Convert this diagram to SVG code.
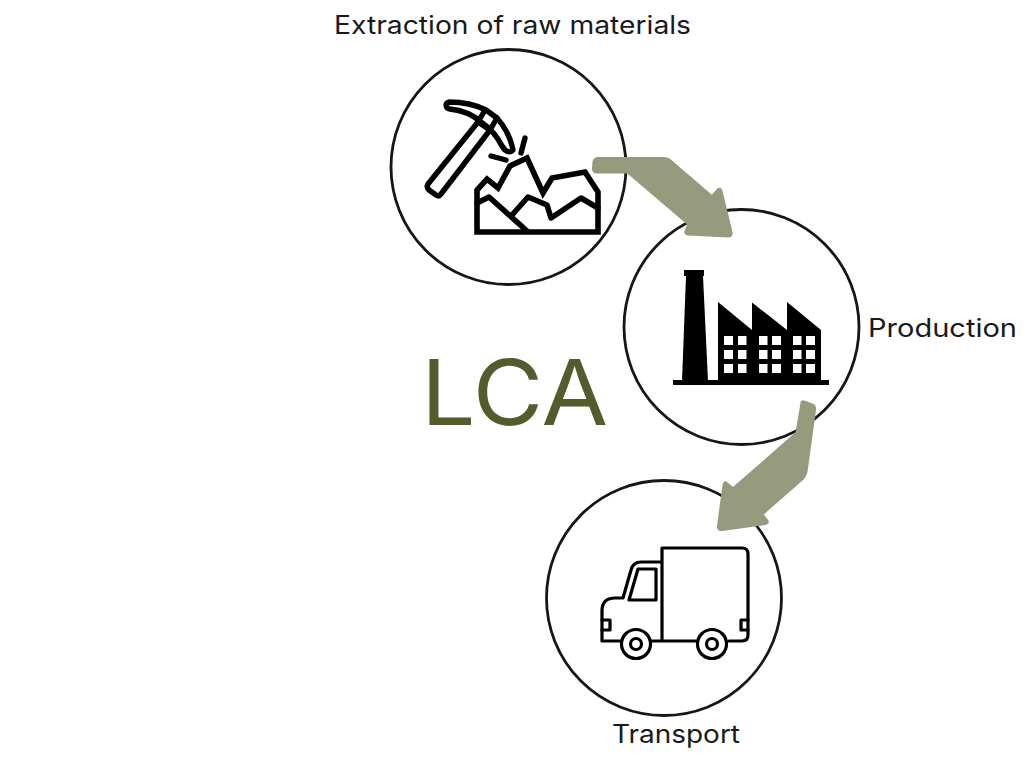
<svg xmlns="http://www.w3.org/2000/svg" width="1024" height="768" viewBox="0 0 1024 768">
<style>
.ring{fill:#fff;stroke:#161616;stroke-width:2.8}
.lbl{font-family:"Inter","Noto Sans",sans-serif;font-size:25px;fill:#1a1a1a}
.ln{fill:none;stroke:#000;stroke-linejoin:round;stroke-linecap:round}
.arrow{fill:#969b7e;stroke:#969b7e;stroke-width:3;stroke-linejoin:round}
.win{fill:#fff}
</style>
<rect width="1024" height="768" fill="#fff"/>
<g id="node-extraction">
<circle class="ring" cx="508.500" cy="167" r="117.500"/>
<g class="ln" stroke-width="5.400">
<path d="M449,102C466,102 478,106 486,110L497,118C506,128 511,140 513,150C509,154 505,151 502,146C497,136 490,128 481,122C472,114 460,110 450,109C445,108 445,103 449,102Z"/>
<path d="M485,110L478,122L490,130L497,118"/>
<path d="M478,122L428,184Q426,187 429,190L436,195Q439,197 441,194L490,130"/>
<path d="M491,156L506,160M525,138L521,153"/>
</g>
<g class="ln" stroke-width="5.600">
<path stroke-linejoin="miter" d="M477,232V190L487,179L498,188L510,166L527,158L543,193L552,178L585,172L598,192V232Z"/>
<path d="M477,203L489,197L527,231M512,215L528,197L547,205L551,218L581,198L598,208"/>
</g>
</g>
<g id="node-production">
<circle class="ring" cx="741.500" cy="327" r="117.500"/>
<path d="M684,270H704V276H703L708,381H682L686,276H684ZM673,380H829V385H673ZM718,302L752,330V302.500L787,330V302L821,330V381H718Z"/>
<g class="win">
<rect x="724" y="336" width="9" height="9"/><rect x="738" y="336" width="8.500" height="9"/><rect x="759" y="336" width="8.500" height="9"/><rect x="772" y="336" width="9" height="9"/><rect x="793" y="336" width="8.500" height="9"/><rect x="806" y="336" width="9" height="9"/>
<rect x="724" y="350" width="9" height="9"/><rect x="738" y="350" width="8.500" height="9"/><rect x="759" y="350" width="8.500" height="9"/><rect x="772" y="350" width="9" height="9"/><rect x="793" y="350" width="8.500" height="9"/><rect x="806" y="350" width="9" height="9"/>
<rect x="724" y="364" width="9" height="9"/><rect x="738" y="364" width="8.500" height="9"/><rect x="759" y="364" width="8.500" height="9"/><rect x="772" y="364" width="9" height="9"/><rect x="793" y="364" width="8.500" height="9"/><rect x="806" y="364" width="9" height="9"/>
</g>
</g>
<g id="node-transport">
<circle class="ring" cx="664" cy="598" r="117.500"/>
<g class="ln" stroke-width="3.200" fill="none" stroke="#111">
<path d="M662,641V548H742Q748,548 748,554V635Q748,641 742,641H729M696,641H652M620,641H602V611Q602,598 615,598H623L631,570Q633,562 641,562H662"/>
<path d="M638,569H656V600H629Z"/>
<path d="M602,620H610V630H602M748,620H741V630H748"/>
<circle cx="636" cy="644" r="14.500"/><circle cx="636" cy="644" r="5.500"/>
<circle cx="712" cy="644" r="14.500"/><circle cx="712" cy="644" r="5.500"/>
</g>
</g>
<g id="connectors">
<path class="arrow" d="M598,158.500H664Q667,158.500 669,160L712,197L718,190Q720,188 721,191L731,232Q732,236 728,236L688,234Q685,234 686,231L689,224L628,172H597Q593,172 593.500,168L594,162Q595,158.500 598,158.500Z"/>
<path class="arrow" d="M804,402L812,405Q815,406 814.500,410L806,472Q805,476 803,478L762,514L767,521Q768,523 765,523.500L722,529.500Q718,530 718.500,526L724,485Q725,481 727,484L733,489L797,433L802,403Q802,401 804,402Z"/>
</g>
<text class="lbl" x="334" y="34" textLength="357" lengthAdjust="spacingAndGlyphs">Extraction of raw materials</text>
<text class="lbl" x="868" y="337" textLength="149" lengthAdjust="spacingAndGlyphs">Production</text>
<text class="lbl" x="612" y="743" textLength="128" lengthAdjust="spacingAndGlyphs">Transport</text>
<text x="421" y="425" textLength="187" lengthAdjust="spacingAndGlyphs" font-family="Inter,'Noto Sans',sans-serif" font-size="91" fill="#525c2c">LCA</text>
</svg>
